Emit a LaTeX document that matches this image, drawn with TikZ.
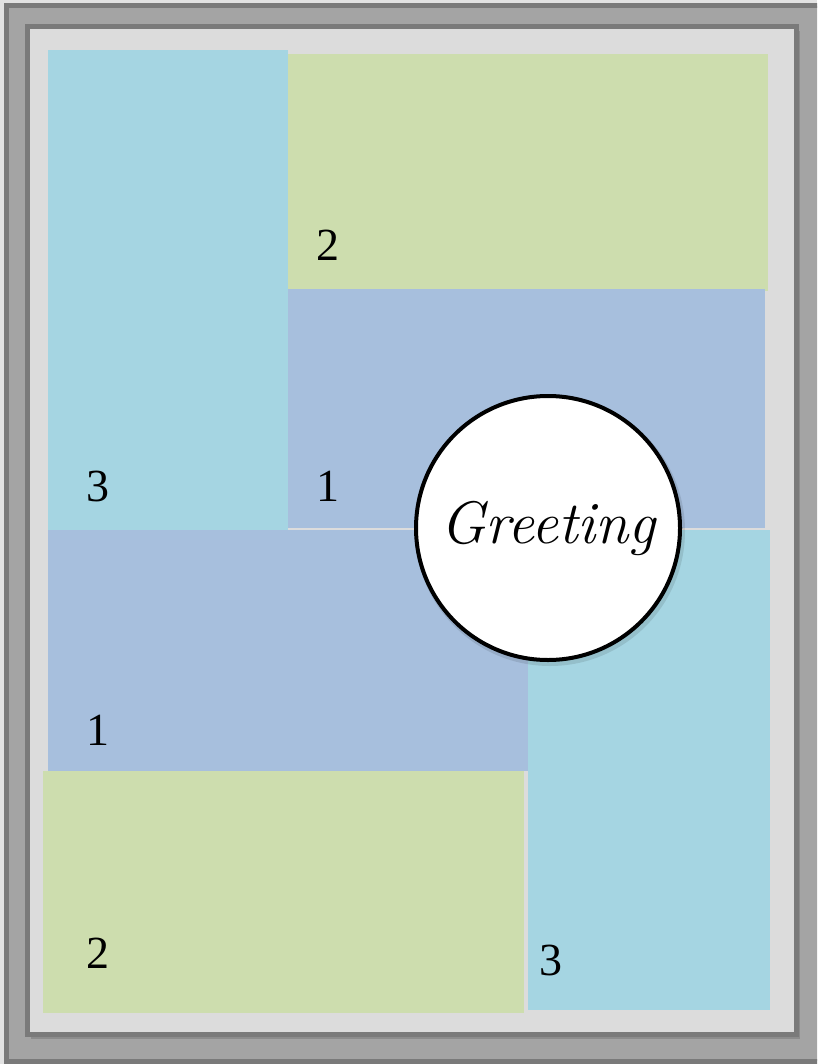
\documentclass[tikz,border=0pt]{standalone}
\usepackage{fontspec}
\usetikzlibrary{positioning}

\newfontfamily\digitfont{Liberation Serif}

\definecolor{pagebg}{HTML}{E2E2E2}
\definecolor{framemid}{HTML}{A4A4A4}
\definecolor{framedark}{HTML}{7A7A7A}
\definecolor{matgray}{HTML}{DCDCDC}
\definecolor{paneblue}{HTML}{A7BFDD}
\definecolor{panecyan}{HTML}{A5D5E2}
\definecolor{panegreen}{HTML}{CDDDAE}

\tikzset{
    outerframe/.style={draw=framedark, line width=5pt, fill=framemid},
    innerframe/.style={draw=framedark, line width=5pt, fill=matgray},
    bluepane/.style={fill=paneblue},
    cyanpane/.style={fill=panecyan},
    greenpane/.style={fill=panegreen},
    panenum/.style={inner sep=0pt, font=\digitfont\fontsize{46}{46}\selectfont},
    greetcircle/.style={circle, draw=black, line width=4pt, fill=white,
                        minimum size=264pt, inner sep=0pt,
                        font=\fontsize{60}{60}\selectfont\itshape},
}

\begin{document}
\begin{tikzpicture}[x=1pt, y=-1pt]

    \useasboundingbox (0,0) rectangle (817,1064);
    \clip (0,0) rectangle (817,1064);
    \fill[pagebg] (0,0) rectangle (817,1064);

    % ── FRAMES ──
    \draw[outerframe] (6.5,6) rectangle (840,1061);
    \fill[framedark!80!black, opacity=0.35] (31,31) rectangle (800,1039);
    \draw[innerframe] (27.5,26.5) rectangle (796,1034.5);

    % ── PANES ──
    \fill[cyanpane]  (48,50)   rectangle (288,530);
    \fill[greenpane] (288,54)  rectangle (768,291);
    \fill[bluepane]  (288,289) rectangle (765,528);
    \fill[bluepane]  (48,530)  rectangle (528,771);
    \fill[greenpane] (43,771)  rectangle (524,1013);
    \fill[cyanpane]  (528,530) rectangle (770,1010);

    % ── NUMBERS ──
    \node[panenum] (n2top)   at (328,245) {2};
    \node[panenum] (n3left)  at (98,486)  {3};
    \node[panenum] (n1top)   at (328,486) {1};
    \node[panenum] (n1left)  at (98,730)  {1};
    \node[panenum] (n2low)   at (98,953)  {2};
    \node[panenum] (n3right) at (551,960) {3};

    % ── GREETING ──
    \fill[black, opacity=0.10] (550,531) circle (135);
    \node[greetcircle] (greet) at (548,528) {Greeting};

\end{tikzpicture}
\end{document}
